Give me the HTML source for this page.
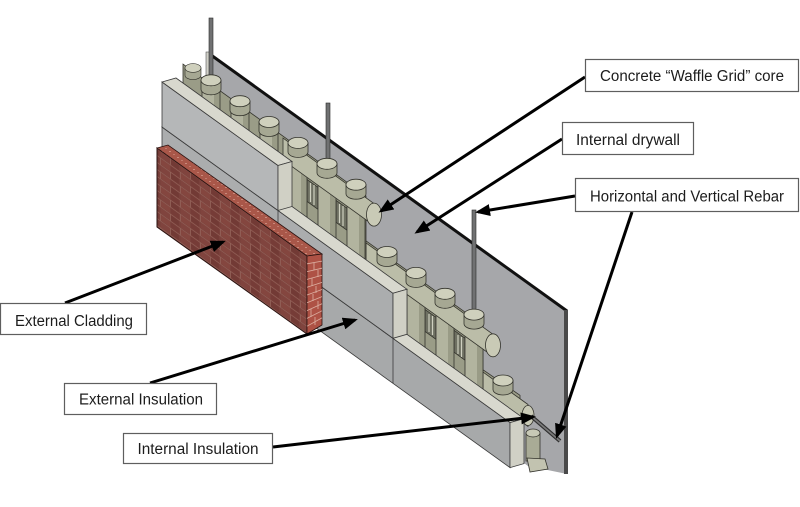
<!DOCTYPE html>
<html><head><meta charset="utf-8"><style>
html,body{margin:0;padding:0;background:#fff;}
svg{display:block;}
text{font-family:"Liberation Sans",Arial,sans-serif;font-size:15.5px;fill:#1c1c1c;}
</style></head><body>
<svg width="800" height="507" viewBox="0 0 800 507" xmlns="http://www.w3.org/2000/svg">
<defs>
<pattern id="brick" width="20" height="14" patternUnits="userSpaceOnUse" patternTransform="skewY(35.75)">
 <rect width="20" height="14" fill="#7b423c"/>
 <rect x="1" y="1" width="9" height="5.5" fill="#84463f"/>
 <rect x="11" y="1" width="8" height="5.5" fill="#763c37"/>
 <rect x="11" y="8" width="8" height="5.5" fill="#723a35"/>
 <rect x="1" y="8" width="9" height="5.5" fill="#80443e"/>
 <path d="M0 0.4H20M0 7.4H20M0.4 0V7M10.4 7V14" stroke="#936259" stroke-width="0.8" fill="none"/>
</pattern>
<pattern id="btop" width="8" height="6" patternUnits="userSpaceOnUse">
 <rect width="8" height="6" fill="#a95749"/>
 <rect x="1" y="1" width="2" height="1" fill="#c98a7c"/>
 <rect x="5" y="4" width="2" height="1" fill="#c07a6c"/>
</pattern>
<marker id="ah" markerWidth="15" markerHeight="12" refX="12" refY="6" orient="auto" markerUnits="userSpaceOnUse"><path d="M0,0 L15,6 L0,12 Z" fill="#000"/></marker>
<g id="cap"><path d="M-10,0 L-10,9 A10,5.5 0 0 0 10,9 L10,0 Z" fill="#a6a893" stroke="#34342d" stroke-width="0.8"/><ellipse rx="10" ry="5.5" fill="#cfd0bd" stroke="#34342d" stroke-width="0.8"/></g>
</defs>

<rect width="800" height="507" fill="#fff"/>

<!-- Drywall -->
<polygon points="207,53 567,311 567,474 528,466 300,300 207,150" fill="#a6a7aa"/>
<line x1="211" y1="55" x2="567" y2="311" stroke="#111" stroke-width="3"/>
<rect x="564" y="310" width="4" height="164" fill="#4a4a4a"/>
<rect x="206" y="52" width="5" height="26" fill="#d0d0c8" stroke="#555" stroke-width="0.6"/>

<!-- Vertical rebars -->
<rect x="209" y="18" width="4" height="64" fill="#707172" stroke="#2a2a2a" stroke-width="0.6"/>
<rect x="326" y="103" width="4" height="62" fill="#707172" stroke="#2a2a2a" stroke-width="0.6"/>
<rect x="472" y="210" width="4" height="106" fill="#707172" stroke="#2a2a2a" stroke-width="0.6"/>

<!-- Core 2 (bottom course) -->
<g stroke="#34342d" stroke-width="0.8">
<polygon points="470,360.8 520,395.3 520,455 470,425" fill="#9a9c87"/>
<rect x="494" y="389.5" width="12" height="55" fill="#b2b49f" stroke="none"/>
<rect x="506" y="389.5" width="6" height="55" fill="#999b86" stroke="none"/>
<rect x="494" y="389.5" width="18" height="55" fill="none"/>
<polygon points="483,372.1 528,404.5 528,426.5 483,394.1" fill="#bbbda8"/>
<ellipse cx="528" cy="415.5" rx="6" ry="10" fill="#c9cab6"/>
</g>
<use href="#cap" x="503" y="380.5"/>

<!-- Core 1 (middle course) -->
<g stroke="#34342d" stroke-width="0.8">
<polygon points="300,193.4 483,325.1 483,399.1 300,267.4" fill="#9a9c87"/>
<polygon points="396,288.5 407,296.4 407,318.4 396,310.5" fill="#6e7062"/>
<polygon points="425,309.4 436,317.3 436,339.3 425,331.4" fill="#6e7062"/>
<polygon points="454,330.2 465,338.2 465,360.2 454,352.2" fill="#6e7062"/>
</g>
<g stroke="#cfd0c0" stroke-width="1.2">
<line x1="429" y1="314" x2="429" y2="332"/><line x1="432.5" y1="316" x2="432.5" y2="335"/>
<line x1="458" y1="335" x2="458" y2="354"/><line x1="461.5" y1="337" x2="461.5" y2="357"/>
</g>
<g stroke="#34342d" stroke-width="0.8">
<rect x="378" y="261" width="12" height="71" fill="#b2b49f" stroke="none"/><rect x="390" y="261" width="6" height="71" fill="#999b86" stroke="none"/><rect x="378" y="261" width="18" height="71" fill="none"/>
<rect x="407" y="281.9" width="12" height="71" fill="#b2b49f" stroke="none"/><rect x="419" y="281.9" width="6" height="71" fill="#999b86" stroke="none"/><rect x="407" y="281.9" width="18" height="71" fill="none"/>
<rect x="436" y="302.8" width="12" height="71" fill="#b2b49f" stroke="none"/><rect x="448" y="302.8" width="6" height="71" fill="#999b86" stroke="none"/><rect x="436" y="302.8" width="18" height="71" fill="none"/>
<rect x="465" y="323.6" width="12" height="71" fill="#b2b49f" stroke="none"/><rect x="477" y="323.6" width="6" height="71" fill="#999b86" stroke="none"/><rect x="465" y="323.6" width="18" height="71" fill="none"/>
<polygon points="366,242.9 493,334.3 493,356.3 366,264.9" fill="#bbbda8"/>
<ellipse cx="493" cy="345.3" rx="7.5" ry="11.5" fill="#c9cab6"/>
</g>
<use href="#cap" x="387" y="252"/>
<use href="#cap" x="416" y="272.9"/>
<use href="#cap" x="445" y="293.8"/>
<use href="#cap" x="474" y="314.6"/>

<!-- Core 0 (top course) -->
<g stroke="#34342d" stroke-width="0.8">
<polygon points="183,64.1 366,195.9 366,269.9 183,138.1" fill="#9a9c87"/>
<polygon points="307,179.4 318,187.3 318,209.3 307,201.4" fill="#6e7062"/>
<polygon points="336,200.3 347,208.2 347,230.2 336,222.3" fill="#6e7062"/>
</g>
<g stroke="#cfd0c0" stroke-width="1.2">
<line x1="310.5" y1="183" x2="310.5" y2="202"/><line x1="314" y1="185" x2="314" y2="205"/>
<line x1="339.5" y1="204" x2="339.5" y2="223"/><line x1="343" y1="206" x2="343" y2="226"/>
</g>
<g stroke="#34342d" stroke-width="0.8">
<rect x="202" y="89" width="12" height="71" fill="#b2b49f" stroke="none"/><rect x="214" y="89" width="6" height="71" fill="#999b86" stroke="none"/><rect x="202" y="89" width="18" height="71" fill="none"/>
<rect x="231" y="110.2" width="12" height="71" fill="#b2b49f" stroke="none"/><rect x="243" y="110.2" width="6" height="71" fill="#999b86" stroke="none"/><rect x="231" y="110.2" width="18" height="71" fill="none"/>
<rect x="260" y="131" width="12" height="71" fill="#b2b49f" stroke="none"/><rect x="272" y="131" width="6" height="71" fill="#999b86" stroke="none"/><rect x="260" y="131" width="18" height="71" fill="none"/>
<rect x="289" y="151.9" width="12" height="71" fill="#b2b49f" stroke="none"/><rect x="301" y="151.9" width="6" height="71" fill="#999b86" stroke="none"/><rect x="289" y="151.9" width="18" height="71" fill="none"/>
<rect x="318" y="172.8" width="12" height="71" fill="#b2b49f" stroke="none"/><rect x="330" y="172.8" width="6" height="71" fill="#999b86" stroke="none"/><rect x="318" y="172.8" width="18" height="71" fill="none"/>
<rect x="347" y="193.7" width="12" height="71" fill="#b2b49f" stroke="none"/><rect x="359" y="193.7" width="6" height="71" fill="#999b86" stroke="none"/><rect x="347" y="193.7" width="18" height="71" fill="none"/>
<polygon points="283,138.1 374,203.6 374,225.6 283,160.1" fill="#bbbda8"/>
<ellipse cx="374" cy="214.6" rx="7.5" ry="11.5" fill="#c9cab6"/>
</g>
<g transform="translate(193,68) scale(0.8)"><use href="#cap"/></g>
<use href="#cap" x="211" y="80.3"/>
<use href="#cap" x="240" y="101.2"/>
<use href="#cap" x="269" y="122"/>
<use href="#cap" x="298" y="142.9"/>
<use href="#cap" x="327" y="163.8"/>
<use href="#cap" x="356" y="184.7"/>

<!-- External insulation: bottom course -->
<g stroke="#3a3a3a" stroke-width="0.8">
<polygon points="162,172 510,422.6 510,467.6 162,217" fill="#a7a9aa"/>
<polygon points="162,172 176,168 524,418.6 510,422.6" fill="#d8d8ce"/>
<polygon points="510,422.6 524,418.6 524,463.6 510,467.6" fill="#d0d0c5"/>
<line x1="393" y1="338.3" x2="393" y2="383.3"/>
</g>
<!-- middle course -->
<g stroke="#3a3a3a" stroke-width="0.8">
<polygon points="162,127 393,293.3 393,338.3 162,172" fill="#abadae"/>
<polygon points="162,127 176,123 407,289.3 393,293.3" fill="#d8d8ce"/>
<polygon points="393,293.3 407,289.3 407,334.3 393,338.3" fill="#d0d0c5"/>
<line x1="278" y1="210.5" x2="278" y2="255.5"/>
</g>
<!-- top course -->
<g stroke="#3a3a3a" stroke-width="0.8">
<polygon points="162,82 278,165.5 278,210.5 162,127" fill="#b5b7b8"/>
<polygon points="162,82 176,78 292,161.5 278,165.5" fill="#d8d8ce"/>
<polygon points="278,165.5 292,161.5 292,206.5 278,210.5" fill="#d0d0c5"/>
</g>

<!-- Right end core profile + rebar stub -->
<g stroke="#34342d" stroke-width="0.8">
<rect x="526" y="433" width="14" height="28" fill="#a9ab96"/>
<ellipse cx="533" cy="433" rx="7" ry="4" fill="#c8c9b6"/>
<polygon points="527,458 545,459 548,469 530,472" fill="#c2c3b0"/>
</g>
<line x1="531" y1="416" x2="560" y2="441" stroke="#2f2f2f" stroke-width="4"/>
<line x1="531" y1="416" x2="560" y2="441" stroke="#7a7a7a" stroke-width="1.8"/>

<!-- Brick cladding -->
<polygon points="157,148 307,256 307,334 157,227" fill="url(#brick)" stroke="#2a1210" stroke-width="1"/>
<polygon points="157,148 168,145 322,254 307,256" fill="url(#btop)" stroke="#2a1210" stroke-width="0.8"/>
<polygon points="307,256 322,254 322,325 307,334" fill="#ae5245" stroke="#2a1210" stroke-width="0.8"/>
<g stroke="#dcb0a2" stroke-width="0.8" fill="none">
<path d="M307,263.8L322,261.1M307,271.6L322,268.2M307,279.4L322,275.3M307,287.2L322,282.4M307,295L322,289.5M307,302.8L322,296.6M307,310.6L322,303.7M307,318.4L322,310.8M307,326.2L322,317.9"/>
<path d="M314,263L314,270M318,270L318,277M312,278L312,286M316,286L316,293M313,294L313,301M318,301L318,309M311,309L311,317M315,317L315,325"/>
</g>

<!-- Arrows -->
<g stroke="#000" stroke-width="3" fill="none" marker-end="url(#ah)">
<line x1="585" y1="77" x2="381" y2="211"/>
<line x1="562" y1="139" x2="417" y2="232"/>
<line x1="575" y1="196" x2="478" y2="212"/>
<line x1="632" y1="212" x2="557" y2="436"/>
<line x1="65" y1="303" x2="223" y2="242"/>
<line x1="150" y1="383" x2="355" y2="320"/>
<line x1="273" y1="447" x2="533" y2="417"/>
</g>

<!-- Label boxes -->
<g fill="#fff" stroke="#5e5e5e" stroke-width="1.2">
<rect x="585.5" y="59.5" width="213" height="32"/>
<rect x="562.5" y="122.5" width="131" height="32"/>
<rect x="575.5" y="178.5" width="223" height="33"/>
<rect x="0.5" y="303.5" width="146" height="31"/>
<rect x="64.5" y="383.5" width="152" height="31"/>
<rect x="123.5" y="433.5" width="149" height="30"/>
</g>
<text x="692" y="81" text-anchor="middle" textLength="184" lengthAdjust="spacingAndGlyphs">Concrete “Waffle Grid” core</text>
<text x="628" y="145" text-anchor="middle" textLength="104" lengthAdjust="spacingAndGlyphs">Internal drywall</text>
<text x="687" y="201.5" text-anchor="middle" textLength="194" lengthAdjust="spacingAndGlyphs">Horizontal and Vertical Rebar</text>
<text x="74" y="326" text-anchor="middle" textLength="118" lengthAdjust="spacingAndGlyphs">External Cladding</text>
<text x="141" y="404.5" text-anchor="middle" textLength="124" lengthAdjust="spacingAndGlyphs">External Insulation</text>
<text x="198" y="454" text-anchor="middle" textLength="121" lengthAdjust="spacingAndGlyphs">Internal Insulation</text>
</svg>
</body></html>
